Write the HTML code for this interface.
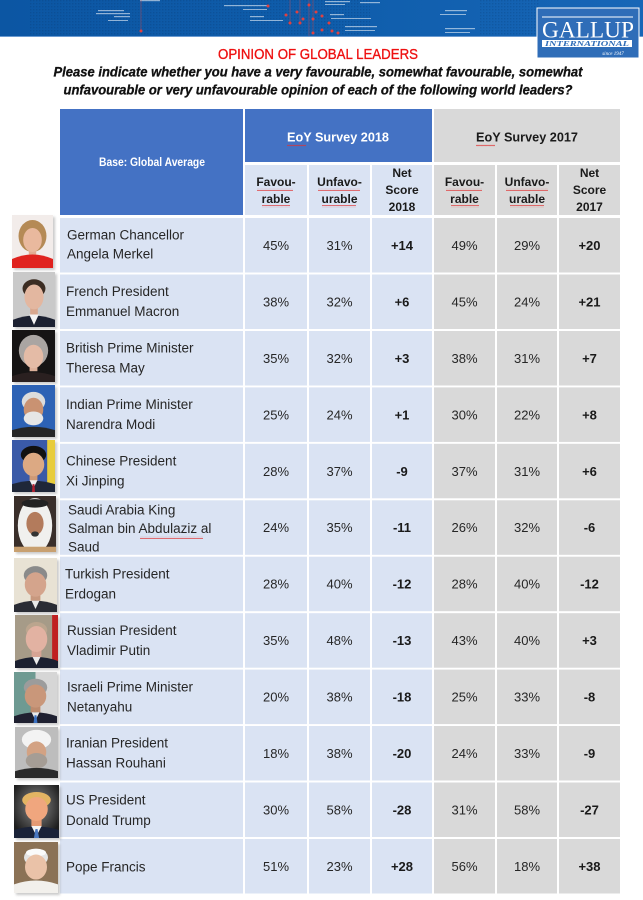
<!DOCTYPE html>
<html><head><meta charset="utf-8"><style>
html,body{margin:0;padding:0;background:#fff;}
svg{display:block;}
text{font-family:"Liberation Sans",Arial,sans-serif;}
</style></head><body>
<svg width="643" height="900" viewBox="0 0 643 900" xmlns="http://www.w3.org/2000/svg">
<defs>
<linearGradient id="bn" x1="0" y1="0" x2="1" y2="0">
<stop offset="0" stop-color="#0c56a3"/><stop offset="0.5" stop-color="#0f5dab"/><stop offset="1" stop-color="#1766b7"/>
</linearGradient>
<pattern id="dots" width="3" height="3" patternUnits="userSpaceOnUse"><rect x="0" y="0" width="1.4" height="1.4" fill="#083f7d"/></pattern>
<pattern id="wave" width="4" height="3" patternUnits="userSpaceOnUse"><polyline points="0,2 1,1 2,2 3,1 4,2" fill="none" stroke="#e03030" stroke-width="0.6"/></pattern>
<radialGradient id="trbg" cx="0.5" cy="0.4" r="0.6"><stop offset="0" stop-color="#8a8a8a"/><stop offset="1" stop-color="#1e1e1e"/></radialGradient>
<filter id="sh" x="-20%" y="-20%" width="140%" height="140%"><feGaussianBlur stdDeviation="1.2"/></filter>
</defs>

<!-- Banner -->
<rect x="0" y="0" width="643" height="37" fill="url(#bn)"/>
<rect x="30" y="0" width="340" height="37" fill="url(#dots)" opacity="0.35"/>
<rect x="480" y="0" width="60" height="37" fill="url(#dots)" opacity="0.3"/>
<g fill="#ffffff" opacity="0.55">
<rect x="98" y="10" width="26" height="1.2"/><rect x="96" y="13" width="34" height="1.2"/><rect x="114" y="16" width="16" height="1.2"/><rect x="108" y="20" width="20" height="1"/>
<rect x="140" y="0" width="20" height="1.2"/>
<rect x="224" y="5" width="45" height="1.2"/><rect x="243" y="9" width="24" height="1"/>
<rect x="250" y="16" width="14" height="1.2"/><rect x="250" y="20" width="33" height="1"/>
<rect x="325" y="1" width="25" height="1.2"/><rect x="325" y="4" width="20" height="1"/>
<rect x="330" y="14" width="14" height="1.2"/><rect x="331" y="18" width="40" height="1"/>
<rect x="345" y="26" width="32" height="1.2"/><rect x="345" y="30" width="30" height="1"/>
<rect x="360" y="2" width="20" height="1.2"/>
<rect x="445" y="10" width="22" height="1.2"/><rect x="440" y="14" width="26" height="1"/>
<rect x="445" y="28" width="30" height="1.2"/><rect x="445" y="32" width="25" height="1"/>
</g>
<g stroke="#d04848" stroke-width="0.6" opacity="0.7">
<line x1="141" y1="0" x2="141" y2="31"/><line x1="290" y1="0" x2="290" y2="23"/><line x1="300" y1="0" x2="300" y2="23"/><line x1="309" y1="0" x2="309" y2="37"/><line x1="313" y1="0" x2="313" y2="33"/>
</g>
<g fill="#e04040">
<circle cx="141" cy="31" r="1.5"/><circle cx="268" cy="6" r="1.5"/><circle cx="286" cy="15" r="1.5"/><circle cx="290" cy="23" r="1.5"/><circle cx="297" cy="12" r="1.5"/><circle cx="300" cy="23" r="1.5"/><circle cx="303" cy="19" r="1.5"/><circle cx="309" cy="5" r="1.5"/><circle cx="313" cy="19" r="1.5"/><circle cx="316" cy="12" r="1.5"/><circle cx="322" cy="16" r="1.5"/><circle cx="329" cy="23" r="1.5"/><circle cx="313" cy="33" r="1.5"/><circle cx="322" cy="30" r="1.5"/><circle cx="332" cy="31" r="1.5"/><circle cx="338" cy="33" r="1.5"/>
</g>
<rect x="0" y="36" width="643" height="1" fill="#6a9ad0"/>

<!-- Logo -->
<rect x="537" y="8" width="102" height="50" fill="#2f6db8" stroke="#ffffff" stroke-width="1"/>
<rect x="542" y="16.5" width="91" height="1" fill="#ffffff"/>
<text x="588" y="37.5" text-anchor="middle" font-size="23" fill="#ffffff" textLength="92" lengthAdjust="spacingAndGlyphs" style="font-family:'Liberation Serif',serif">GALLUP</text>
<rect x="542" y="40" width="90" height="7" fill="#ffffff"/>
<text x="587" y="46" text-anchor="middle" font-size="7" font-weight="bold" font-style="italic" fill="#2f6db8" textLength="84" lengthAdjust="spacingAndGlyphs" style="font-family:'Liberation Serif',serif">INTERNATIONAL</text>
<text x="613" y="55" text-anchor="middle" font-size="5" font-style="italic" fill="#ffffff" style="font-family:'Liberation Serif',serif">since 1947</text>

<!-- Title -->
<text x="318" y="59" text-anchor="middle" font-size="15" fill="#ee1111" stroke="#ee1111" stroke-width="0.35" textLength="200" lengthAdjust="spacingAndGlyphs">OPINION OF GLOBAL LEADERS</text>
<text x="318" y="76.5" text-anchor="middle" font-size="13.5" font-weight="bold" font-style="italic" fill="#111" stroke="#111" stroke-width="0.3" textLength="529" lengthAdjust="spacingAndGlyphs">Please indicate whether you have a very favourable, somewhat favourable, somewhat</text>
<text x="318" y="94.5" text-anchor="middle" font-size="13.5" font-weight="bold" font-style="italic" fill="#111" stroke="#111" stroke-width="0.3" textLength="509" lengthAdjust="spacingAndGlyphs">unfavourable or very unfavourable opinion of each of the following world leaders?</text>

<!-- Header -->
<rect x="60" y="109" width="183" height="106" fill="#4472c4"/>
<text x="152" y="166" text-anchor="middle" font-size="12" font-weight="bold" fill="#ffffff" textLength="106" lengthAdjust="spacingAndGlyphs">Base: Global Average</text>
<rect x="245" y="109" width="187" height="53" fill="#4472c4"/>
<text x="338" y="141.5" text-anchor="middle" font-size="13" font-weight="bold" fill="#ffffff" textLength="102" lengthAdjust="spacingAndGlyphs">EoY Survey 2018</text>
<rect x="287" y="144" width="19" height="3" fill="url(#wave)"/>
<rect x="434" y="109" width="186" height="53" fill="#d9d9d9"/>
<text x="527" y="141.5" text-anchor="middle" font-size="13" font-weight="bold" fill="#1a1a1a" textLength="102" lengthAdjust="spacingAndGlyphs">EoY Survey 2017</text>
<rect x="476" y="144" width="19" height="3" fill="url(#wave)"/>

<g fill="#dae3f3">
<rect x="245" y="165" width="62" height="50"/><rect x="309" y="165" width="61" height="50"/><rect x="372" y="165" width="60" height="50"/>
</g>
<g fill="#d9d9d9">
<rect x="434" y="165" width="61" height="50"/><rect x="497" y="165" width="60" height="50"/><rect x="559" y="165" width="61" height="50"/>
</g>
<g font-size="12" font-weight="bold" fill="#1a1a1a" text-anchor="middle">
<text x="276" y="186">Favou-</text><text x="276" y="203">rable</text>
<text x="339.5" y="186">Unfavo-</text><text x="339.5" y="203">urable</text>
<text x="402" y="177">Net</text><text x="402" y="194">Score</text><text x="402" y="211">2018</text>
<text x="464.5" y="186">Favou-</text><text x="464.5" y="203">rable</text>
<text x="527" y="186">Unfavo-</text><text x="527" y="203">urable</text>
<text x="589.5" y="177">Net</text><text x="589.5" y="194">Score</text><text x="589.5" y="211">2017</text>
</g>
<g>
<rect x="257" y="188" width="36" height="3" fill="url(#wave)"/><rect x="262" y="205" width="28" height="3" fill="url(#wave)"/>
<rect x="318" y="188" width="42" height="3" fill="url(#wave)"/><rect x="322" y="205" width="34" height="3" fill="url(#wave)"/>
<rect x="446" y="188" width="36" height="3" fill="url(#wave)"/><rect x="451" y="205" width="28" height="3" fill="url(#wave)"/>
<rect x="506" y="188" width="42" height="3" fill="url(#wave)"/><rect x="510" y="205" width="34" height="3" fill="url(#wave)"/>
</g>

<!-- Rows backgrounds -->
<g fill="#dae3f3">
<rect x="60" y="218" width="183" height="54.5"/><rect x="245" y="218" width="62" height="54.5"/><rect x="309" y="218" width="61" height="54.5"/><rect x="372" y="218" width="60" height="54.5"/>
<rect x="60" y="274.5" width="183" height="54.5"/><rect x="245" y="274.5" width="62" height="54.5"/><rect x="309" y="274.5" width="61" height="54.5"/><rect x="372" y="274.5" width="60" height="54.5"/>
<rect x="60" y="331" width="183" height="54.5"/><rect x="245" y="331" width="62" height="54.5"/><rect x="309" y="331" width="61" height="54.5"/><rect x="372" y="331" width="60" height="54.5"/>
<rect x="60" y="387.4" width="183" height="54.5"/><rect x="245" y="387.4" width="62" height="54.5"/><rect x="309" y="387.4" width="61" height="54.5"/><rect x="372" y="387.4" width="60" height="54.5"/>
<rect x="60" y="443.8" width="183" height="54.5"/><rect x="245" y="443.8" width="62" height="54.5"/><rect x="309" y="443.8" width="61" height="54.5"/><rect x="372" y="443.8" width="60" height="54.5"/>
<rect x="60" y="500.3" width="183" height="54.5"/><rect x="245" y="500.3" width="62" height="54.5"/><rect x="309" y="500.3" width="61" height="54.5"/><rect x="372" y="500.3" width="60" height="54.5"/>
<rect x="60" y="556.7" width="183" height="54.5"/><rect x="245" y="556.7" width="62" height="54.5"/><rect x="309" y="556.7" width="61" height="54.5"/><rect x="372" y="556.7" width="60" height="54.5"/>
<rect x="60" y="613.2" width="183" height="54.5"/><rect x="245" y="613.2" width="62" height="54.5"/><rect x="309" y="613.2" width="61" height="54.5"/><rect x="372" y="613.2" width="60" height="54.5"/>
<rect x="60" y="669.6" width="183" height="54.5"/><rect x="245" y="669.6" width="62" height="54.5"/><rect x="309" y="669.6" width="61" height="54.5"/><rect x="372" y="669.6" width="60" height="54.5"/>
<rect x="60" y="726" width="183" height="54.5"/><rect x="245" y="726" width="62" height="54.5"/><rect x="309" y="726" width="61" height="54.5"/><rect x="372" y="726" width="60" height="54.5"/>
<rect x="60" y="782.5" width="183" height="54.5"/><rect x="245" y="782.5" width="62" height="54.5"/><rect x="309" y="782.5" width="61" height="54.5"/><rect x="372" y="782.5" width="60" height="54.5"/>
<rect x="60" y="839" width="183" height="54.5"/><rect x="245" y="839" width="62" height="54.5"/><rect x="309" y="839" width="61" height="54.5"/><rect x="372" y="839" width="60" height="54.5"/>
</g>
<g fill="#d9d9d9">
<rect x="434" y="218" width="61" height="54.5"/><rect x="497" y="218" width="60" height="54.5"/><rect x="559" y="218" width="61" height="54.5"/>
<rect x="434" y="274.5" width="61" height="54.5"/><rect x="497" y="274.5" width="60" height="54.5"/><rect x="559" y="274.5" width="61" height="54.5"/>
<rect x="434" y="331" width="61" height="54.5"/><rect x="497" y="331" width="60" height="54.5"/><rect x="559" y="331" width="61" height="54.5"/>
<rect x="434" y="387.4" width="61" height="54.5"/><rect x="497" y="387.4" width="60" height="54.5"/><rect x="559" y="387.4" width="61" height="54.5"/>
<rect x="434" y="443.8" width="61" height="54.5"/><rect x="497" y="443.8" width="60" height="54.5"/><rect x="559" y="443.8" width="61" height="54.5"/>
<rect x="434" y="500.3" width="61" height="54.5"/><rect x="497" y="500.3" width="60" height="54.5"/><rect x="559" y="500.3" width="61" height="54.5"/>
<rect x="434" y="556.7" width="61" height="54.5"/><rect x="497" y="556.7" width="60" height="54.5"/><rect x="559" y="556.7" width="61" height="54.5"/>
<rect x="434" y="613.2" width="61" height="54.5"/><rect x="497" y="613.2" width="60" height="54.5"/><rect x="559" y="613.2" width="61" height="54.5"/>
<rect x="434" y="669.6" width="61" height="54.5"/><rect x="497" y="669.6" width="60" height="54.5"/><rect x="559" y="669.6" width="61" height="54.5"/>
<rect x="434" y="726" width="61" height="54.5"/><rect x="497" y="726" width="60" height="54.5"/><rect x="559" y="726" width="61" height="54.5"/>
<rect x="434" y="782.5" width="61" height="54.5"/><rect x="497" y="782.5" width="60" height="54.5"/><rect x="559" y="782.5" width="61" height="54.5"/>
<rect x="434" y="839" width="61" height="54.5"/><rect x="497" y="839" width="60" height="54.5"/><rect x="559" y="839" width="61" height="54.5"/>
</g>

<!-- Names -->
<g font-size="13.5" fill="#262626">
<text x="67" y="239.5">German Chancellor</text><text x="67" y="258.5">Angela Merkel</text>
<text x="66" y="296">French President</text><text x="66" y="316">Emmanuel Macron</text>
<text x="66" y="352.5">British Prime Minister</text><text x="66" y="372.5">Theresa May</text>
<text x="66" y="409">Indian Prime Minister</text><text x="66" y="429">Narendra Modi</text>
<text x="66" y="465.5">Chinese President</text><text x="66" y="485.5">Xi Jinping</text>
<text x="68" y="514.5">Saudi Arabia King</text><text x="68" y="533">Salman bin Abdulaziz al</text><text x="68" y="551.5">Saud</text>
<text x="65" y="578.5">Turkish President</text><text x="65" y="598.5">Erdogan</text>
<text x="67" y="635">Russian President</text><text x="67" y="655">Vladimir Putin</text>
<text x="67" y="691.5">Israeli Prime Minister</text><text x="67" y="711.5">Netanyahu</text>
<text x="66" y="747.5">Iranian President</text><text x="66" y="767.5">Hassan Rouhani</text>
<text x="66" y="804.5">US President</text><text x="66" y="825">Donald Trump</text>
<text x="66" y="871.5">Pope Francis</text>
</g>
<rect x="140" y="536" width="63" height="3" fill="url(#wave)"/>

<!-- Values -->
<g font-size="13" fill="#262626" text-anchor="middle">
<text x="276" y="250">45%</text><text x="339.5" y="250">31%</text><text x="464.5" y="250">49%</text><text x="527" y="250">29%</text>
<text x="276" y="306.5">38%</text><text x="339.5" y="306.5">32%</text><text x="464.5" y="306.5">45%</text><text x="527" y="306.5">24%</text>
<text x="276" y="363">35%</text><text x="339.5" y="363">32%</text><text x="464.5" y="363">38%</text><text x="527" y="363">31%</text>
<text x="276" y="419.5">25%</text><text x="339.5" y="419.5">24%</text><text x="464.5" y="419.5">30%</text><text x="527" y="419.5">22%</text>
<text x="276" y="476">28%</text><text x="339.5" y="476">37%</text><text x="464.5" y="476">37%</text><text x="527" y="476">31%</text>
<text x="276" y="532">24%</text><text x="339.5" y="532">35%</text><text x="464.5" y="532">26%</text><text x="527" y="532">32%</text>
<text x="276" y="588.5">28%</text><text x="339.5" y="588.5">40%</text><text x="464.5" y="588.5">28%</text><text x="527" y="588.5">40%</text>
<text x="276" y="645">35%</text><text x="339.5" y="645">48%</text><text x="464.5" y="645">43%</text><text x="527" y="645">40%</text>
<text x="276" y="701.5">20%</text><text x="339.5" y="701.5">38%</text><text x="464.5" y="701.5">25%</text><text x="527" y="701.5">33%</text>
<text x="276" y="758">18%</text><text x="339.5" y="758">38%</text><text x="464.5" y="758">24%</text><text x="527" y="758">33%</text>
<text x="276" y="814.5">30%</text><text x="339.5" y="814.5">58%</text><text x="464.5" y="814.5">31%</text><text x="527" y="814.5">58%</text>
<text x="276" y="871">51%</text><text x="339.5" y="871">23%</text><text x="464.5" y="871">56%</text><text x="527" y="871">18%</text>
</g>
<g font-size="13" font-weight="bold" fill="#1a1a1a" text-anchor="middle">
<text x="402" y="250">+14</text><text x="589.5" y="250">+20</text>
<text x="402" y="306.5">+6</text><text x="589.5" y="306.5">+21</text>
<text x="402" y="363">+3</text><text x="589.5" y="363">+7</text>
<text x="402" y="419.5">+1</text><text x="589.5" y="419.5">+8</text>
<text x="402" y="476">-9</text><text x="589.5" y="476">+6</text>
<text x="402" y="532">-11</text><text x="589.5" y="532">-6</text>
<text x="402" y="588.5">-12</text><text x="589.5" y="588.5">-12</text>
<text x="402" y="645">-13</text><text x="589.5" y="645">+3</text>
<text x="402" y="701.5">-18</text><text x="589.5" y="701.5">-8</text>
<text x="402" y="758">-20</text><text x="589.5" y="758">-9</text>
<text x="402" y="814.5">-28</text><text x="589.5" y="814.5">-27</text>
<text x="402" y="871">+28</text><text x="589.5" y="871">+38</text>
</g>

<!-- Photo shadows -->
<g fill="#888" opacity="0.45" filter="url(#sh)">
<rect x="14" y="217" width="41" height="53"/><rect x="15" y="274" width="42" height="55"/><rect x="14" y="332" width="43" height="52"/><rect x="14" y="387" width="43" height="52"/><rect x="14" y="442" width="43" height="52"/><rect x="16" y="498" width="42" height="56"/><rect x="16" y="560" width="43" height="54"/><rect x="17" y="617" width="43" height="53"/><rect x="16" y="674" width="43" height="51"/><rect x="17" y="729" width="43" height="51"/><rect x="16" y="787" width="45" height="53"/><rect x="16" y="844" width="44" height="51"/>
</g>

<!-- Photos -->
<svg x="12" y="215" width="41" height="53" viewBox="0 0 44 53" preserveAspectRatio="none">
<rect width="44" height="53" fill="#f2ecea"/><ellipse cx="22" cy="21" rx="15" ry="16" fill="#b58a55"/><rect x="18" y="34" width="8" height="8" fill="#e2ac92"/><ellipse cx="22" cy="25" rx="10" ry="12" fill="#e9b99e"/><path d="M0 53 L0 44 Q22 35 44 44 L44 53Z" fill="#e0231f"/>
</svg>
<svg x="13" y="272" width="42" height="55" viewBox="0 0 44 53" preserveAspectRatio="none">
<rect width="44" height="53" fill="#c9c9c9"/><ellipse cx="22" cy="16" rx="12" ry="9" fill="#3b2c22"/><rect x="18" y="32" width="8" height="10" fill="#d9a88f"/><ellipse cx="22" cy="24" rx="10" ry="12" fill="#e3b7a0"/><path d="M0 53 L0 46 Q22 38 44 46 L44 53Z" fill="#1c2131"/><path d="M17 41 L22 51 L27 41Z" fill="#f4f4f4"/>
</svg>
<svg x="12" y="330" width="43" height="52" viewBox="0 0 44 53" preserveAspectRatio="none">
<rect width="44" height="53" fill="#161414"/><ellipse cx="22" cy="21" rx="15" ry="16" fill="#aaa5a2"/><rect x="18" y="34" width="8" height="8" fill="#ddb09a"/><ellipse cx="22" cy="27" rx="10" ry="12" fill="#e4bba6"/><path d="M0 53 L0 47 Q22 39 44 47 L44 53Z" fill="#2a2020"/>
</svg>
<svg x="12" y="385" width="43" height="52" viewBox="0 0 44 53" preserveAspectRatio="none">
<rect width="44" height="53" fill="#2d62b5"/><ellipse cx="22" cy="17" rx="12" ry="10" fill="#dcdcdc"/><ellipse cx="22" cy="25" rx="10" ry="12" fill="#c99272"/><ellipse cx="22" cy="34" rx="10" ry="7" fill="#e6e6e6"/><path d="M0 53 L0 46 Q22 39 44 46 L44 53Z" fill="#262626"/>
</svg>
<svg x="12" y="440" width="43" height="52" viewBox="0 0 44 53" preserveAspectRatio="none">
<rect width="44" height="53" fill="#3a5aa8"/><rect x="36" y="0" width="8" height="53" fill="#e8cc3a"/><ellipse cx="22" cy="15" rx="13" ry="9" fill="#111"/><rect x="18" y="32" width="8" height="10" fill="#cf9a76"/><ellipse cx="22" cy="25" rx="11" ry="12" fill="#dca983"/><path d="M0 53 L0 45 Q22 38 44 45 L44 53Z" fill="#1f2738"/><path d="M18 41 L22 49 L26 41Z" fill="#f0f0f0"/><path d="M21 45 L23 45 L23.5 53 L20.5 53Z" fill="#b02030"/>
</svg>
<svg x="14" y="496" width="42" height="56" viewBox="0 0 44 53" preserveAspectRatio="none">
<rect width="44" height="53" fill="#3a2f2a"/><ellipse cx="22" cy="28" rx="18" ry="26" fill="#f0f0ee"/><ellipse cx="22" cy="7" rx="14" ry="4" fill="#222"/><ellipse cx="22" cy="26" rx="9" ry="11" fill="#b37b5c"/><ellipse cx="22" cy="36" rx="4" ry="2.5" fill="#333"/><rect x="0" y="48" width="44" height="5" fill="#c8a070"/>
</svg>
<svg x="14" y="558" width="43" height="54" viewBox="0 0 44 53" preserveAspectRatio="none">
<rect width="44" height="53" fill="#e8e2d4"/><ellipse cx="22" cy="17" rx="12" ry="9" fill="#8a8a8a"/><rect x="17" y="32" width="10" height="10" fill="#c8987e"/><ellipse cx="22" cy="26" rx="11" ry="12" fill="#d4a48c"/><path d="M0 53 L0 46 Q22 38 44 46 L44 53Z" fill="#2a2c34"/><path d="M18 42 L22 50 L26 42Z" fill="#e8e8e8"/>
</svg>
<svg x="15" y="615" width="43" height="53" viewBox="0 0 44 53" preserveAspectRatio="none">
<rect width="44" height="53" fill="#a69b88"/><rect x="38" y="0" width="6" height="53" fill="#c02020"/><ellipse cx="22" cy="15" rx="11" ry="8" fill="#bba58e"/><rect x="17" y="32" width="10" height="10" fill="#d6a494"/><ellipse cx="22" cy="24" rx="11" ry="13" fill="#e2b2a2"/><path d="M0 53 L0 46 Q22 38 44 46 L44 53Z" fill="#1b2030"/><path d="M18 42 L22 50 L26 42Z" fill="#eaeaea"/>
</svg>
<svg x="14" y="672" width="43" height="51" viewBox="0 0 44 53" preserveAspectRatio="none">
<rect width="44" height="53" fill="#d6d6d6"/><rect x="0" y="0" width="22" height="53" fill="#6e9a92"/><ellipse cx="22" cy="16" rx="12" ry="9" fill="#9c9c9c"/><rect x="17" y="32" width="10" height="10" fill="#bd8b6e"/><ellipse cx="22" cy="25" rx="11" ry="12" fill="#c9977a"/><path d="M0 53 L0 46 Q22 38 44 46 L44 53Z" fill="#1f2030"/><path d="M18 42 L22 50 L26 42Z" fill="#eaeaea"/><path d="M21 45 L23 45 L24 53 L20 53Z" fill="#3a70c0"/>
</svg>
<svg x="15" y="727" width="43" height="51" viewBox="0 0 44 53" preserveAspectRatio="none">
<rect width="44" height="53" fill="#bdbdbd"/><ellipse cx="22" cy="13" rx="15" ry="10" fill="#f3f3f3"/><ellipse cx="22" cy="26" rx="10" ry="11" fill="#d3a283"/><ellipse cx="22" cy="35" rx="11" ry="8" fill="#a59d95"/><path d="M0 53 L0 46 Q22 39 44 46 L44 53Z" fill="#2b2b2b"/>
</svg>
<svg x="14" y="785" width="45" height="53" viewBox="0 0 44 53" preserveAspectRatio="none">
<rect width="44" height="53" fill="url(#trbg)"/><ellipse cx="22" cy="15" rx="14" ry="8" fill="#e3b463"/><rect x="17" y="32" width="10" height="10" fill="#e49a74"/><ellipse cx="22" cy="24" rx="11" ry="12" fill="#f0a67e"/><path d="M0 53 L0 45 Q22 38 44 45 L44 53Z" fill="#1a2238"/><path d="M17 41 L22 51 L27 41Z" fill="#f4f4f4"/><path d="M21 44 L23 44 L24.5 53 L19.5 53Z" fill="#4a78c0"/>
</svg>
<svg x="14" y="842" width="44" height="51" viewBox="0 0 44 53" preserveAspectRatio="none">
<rect width="44" height="53" fill="#8b7256"/><ellipse cx="22" cy="16" rx="12" ry="9" fill="#e4e4e4"/><ellipse cx="22" cy="11" rx="10" ry="4" fill="#fafafa"/><ellipse cx="22" cy="26" rx="11" ry="13" fill="#eac2a8"/><path d="M0 53 L0 44 Q22 36 44 44 L44 53Z" fill="#f2f0ec"/>
</svg>
</svg>
</body></html>
